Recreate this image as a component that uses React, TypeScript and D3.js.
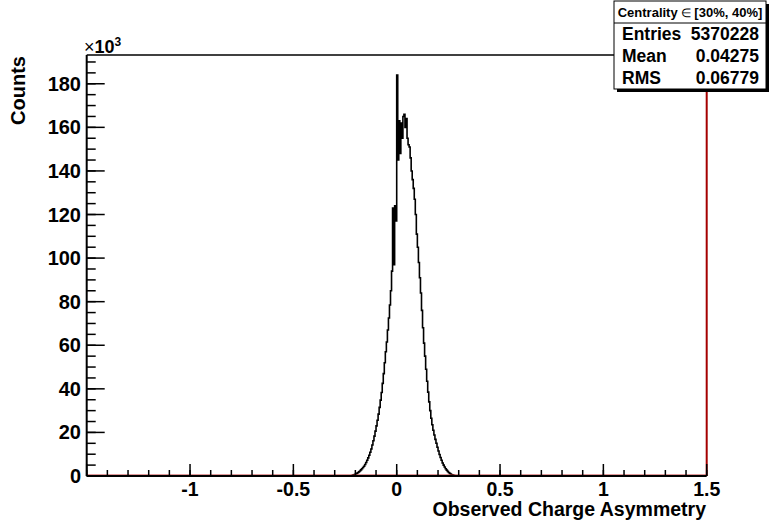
import React from "react";
import * as d3 from "d3";

// Histogram: bin lower edges start at BIN_START, width BIN_WIDTH; counts in units of 10^3
const BIN_START = -0.22;
const BIN_WIDTH = 0.005;
const counts: number[] = [
  0.1, 0.3, 0.5, 0.7, 0.9, 1.2, 1.5, 1.9, 2.3, 2.8,
  3.3, 3.9, 4.5, 5.3, 6.2, 7.2, 8.3, 9.5, 10.9, 12.4,
  14.2, 16.2, 18.3, 20.6, 23.0, 25.6, 28.4, 31.5, 34.8, 38.3,
  42.5, 47.0, 52.0, 57.0, 61.5, 67.0, 72.5, 78.5, 85.0, 94.0,
  123.0, 97.0, 124.0, 117.0, 184.0, 145.0, 163.0, 148.0, 162.0, 155.0,
  165.0, 166.0, 160.0, 164.0, 155.0, 152.0, 151.0, 146.0, 140.0, 136.0,
  132.0, 127.0, 120.0, 111.0, 105.0, 98.0, 91.0, 84.0, 76.0, 68.0,
  61.0, 55.0, 49.0, 43.5, 38.5, 34.0, 30.0, 26.5, 23.5, 21.0,
  18.8, 16.8, 15.0, 13.2, 11.5, 9.9, 8.5, 7.2, 6.0, 5.0,
  4.1, 3.3, 2.7, 2.1, 1.6, 1.2, 0.9, 0.6, 0.4, 0.25,
  0.12, 0.05,
];

const X_DOMAIN: [number, number] = [-1.5, 1.5];
const Y_MAX = 193.2;
const xMajorTicks = [-1.5, -1, -0.5, 0, 0.5, 1, 1.5];
const xTickLabels = ["", "-1", "-0.5", "0", "0.5", "1", "1.5"];
const yMajorTicks = [0, 20, 40, 60, 80, 100, 120, 140, 160, 180];
const yTickLabels = ["0", "20", "40", "60", "80", "100", "120", "140", "160", "180"];

const statsTitle = "Centrality";
const statsTitleRange = "[30%, 40%]";
const statsRows = [
  ["Entries", "5370228"],
  ["Mean", "0.04275"],
  ["RMS", "0.06779"],
];
const xTitle = "Observed Charge Asymmetry";
const yTitle = "Counts";

const FONT = "'Liberation Sans', Arial, Helvetica, sans-serif";

export default function App() {
  const W = 769, H = 520;
  const left = 86.7, right = 706.7, top = 55, bottom = 476;
  const x = d3.scaleLinear().domain(X_DOMAIN).range([left, right]);
  const y = d3.scaleLinear().domain([0, Y_MAX]).range([bottom, top]);

  const line = d3.line<[number, number]>().x((d) => d[0]).y((d) => d[1]);
  const stepPts: [number, number][] = [];
  stepPts.push([x(BIN_START), y(0)]);
  counts.forEach((c, i) => {
    const x0 = x(BIN_START + i * BIN_WIDTH);
    const x1 = x(BIN_START + (i + 1) * BIN_WIDTH);
    stepPts.push([x0, y(c)]);
    stepPts.push([x1, y(c)]);
  });
  stepPts.push([x(BIN_START + counts.length * BIN_WIDTH), y(0)]);
  const histPath = line(stepPts) || "";

  const xMinor = d3.range(-1.5, 1.5001, 0.1).map((v) => Math.round(v * 10) / 10);
  const yMinor = d3.range(0, Y_MAX, 5);

  const boxL = 614, boxR = 766, boxT = 1, boxB = 89;
  const rowH = (boxB - boxT) / 4;

  return (
    <svg
      width={W}
      height={H}
      style={{ position: "absolute", left: 0, top: 0, background: "#fff" }}
      fontFamily={FONT}
    >
      <rect x={0} y={0} width={W} height={H} fill="#fff" />
      {/* frame */}
      <line x1={left} x2={right} y1={top} y2={top} stroke="#000" strokeWidth={1.5} />
      <line x1={right} x2={right} y1={top} y2={bottom} stroke="#a50000" strokeWidth={2} />
      {/* histogram */}
      <path d={histPath} fill="none" stroke="#000" strokeWidth={1.6} />
      {/* red zero line */}
      <line x1={left} x2={right} y1={bottom - 1} y2={bottom - 1} stroke="#c03030" strokeWidth={1} />
      {/* axes */}
      <line x1={left} x2={right} y1={bottom} y2={bottom} stroke="#000" strokeWidth={2} />
      <line x1={left} x2={left} y1={top} y2={bottom} stroke="#000" strokeWidth={2} />
      {xMinor.map((v, i) => (
        <line key={"xm" + i} x1={x(v)} x2={x(v)} y1={bottom} y2={bottom - 6} stroke="#000" strokeWidth={1.5} />
      ))}
      {xMajorTicks.map((v, i) => (
        <line key={"xM" + i} x1={x(v)} x2={x(v)} y1={bottom} y2={bottom - 12} stroke="#000" strokeWidth={1.5} />
      ))}
      {xMajorTicks.map((v, i) => (
        <text key={"xl" + i} x={x(v)} y={495.5} textAnchor="middle" fontSize={19.5} fontWeight="bold">
          {xTickLabels[i]}
        </text>
      ))}
      {yMinor.map((v, i) => (
        <line key={"ym" + i} x1={left} x2={left + 9} y1={y(v)} y2={y(v)} stroke="#000" strokeWidth={1.5} />
      ))}
      {yMajorTicks.map((v, i) => (
        <line key={"yM" + i} x1={left} x2={left + 18} y1={y(v)} y2={y(v)} stroke="#000" strokeWidth={1.5} />
      ))}
      {yMajorTicks.map((v, i) => (
        <text key={"yl" + i} x={81} y={y(v) + 7} textAnchor="end" fontSize={20} fontWeight="bold">
          {yTickLabels[i]}
        </text>
      ))}
      {/* exponent */}
      <text x={84} y={53} fontSize={18}>
        <tspan fontWeight="normal">×</tspan>
        <tspan fontWeight="bold">10</tspan>
        <tspan fontWeight="bold" fontSize={12} dy={-7}>3</tspan>
      </text>
      {/* titles */}
      <text x={706} y={515.5} textAnchor="end" fontSize={19.5} fontWeight="bold">
        {xTitle}
      </text>
      <text
        transform={`translate(25, 56) rotate(-90)`}
        textAnchor="end"
        fontSize={20}
        fontWeight="bold"
      >
        {yTitle}
      </text>
      {/* stats box */}
      <rect x={boxL + 3} y={boxT + 3} width={boxR - boxL} height={boxB - boxT} fill="#000" />
      <rect x={boxL} y={boxT} width={boxR - boxL} height={boxB - boxT} fill="#fff" stroke="#000" strokeWidth={1} />
      <line x1={boxL} x2={boxR} y1={boxT + rowH} y2={boxT + rowH} stroke="#000" strokeWidth={1} />
      <text x={(boxL + boxR) / 2} y={boxT + rowH / 2 + 5} textAnchor="middle" fontSize={13} fontWeight="bold">
        {statsTitle}
        <tspan fontWeight="normal" fontSize={12}> ∈ </tspan>
        {statsTitleRange}
      </text>
      {statsRows.map((r, i) => (
        <g key={"sr" + i}>
          <text x={622} y={boxT + rowH * (i + 1.5) + 6} fontSize={17.5} fontWeight="bold">
            {r[0]}
          </text>
          <text x={759} y={boxT + rowH * (i + 1.5) + 6} textAnchor="end" fontSize={17.5} fontWeight="bold">
            {r[1]}
          </text>
        </g>
      ))}
    </svg>
  );
}
